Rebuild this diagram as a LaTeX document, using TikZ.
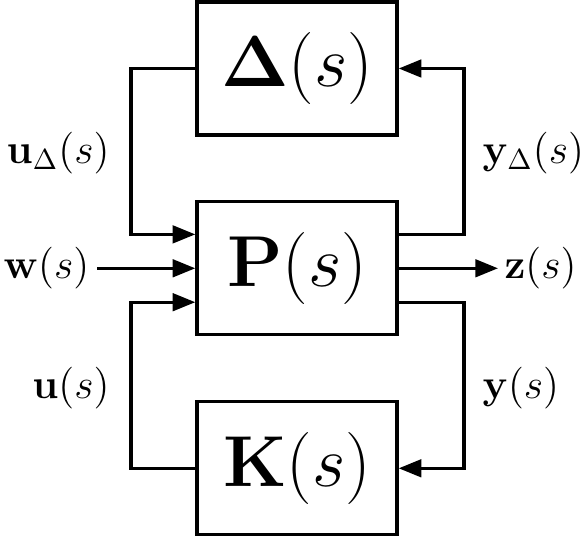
\documentclass[tikz,border=0pt]{standalone}
\usepackage{amsmath}
\usetikzlibrary{arrows.meta}
\begin{document}
\begin{tikzpicture}[x=0.345pt,y=-0.345pt,
  blk/.style={draw, line width=1.15pt, minimum width=69pt, minimum height=45.9pt, inner sep=0pt, font=\Huge},
  lbl/.style={inner sep=0pt, font=\fontsize{14}{16}\selectfont},
  wire/.style={line width=1.15pt},
  arr/.style={wire, -{Triangle[length=7.8pt,width=6pt]}}]
\useasboundingbox (0,0) rectangle (580,537);
\node[blk] (D) at (297,68.5) {$\mathbf{\Delta}(s)$};
\node[blk] (P) at (297,268.3) {$\mathbf{P}(s)$};
\node[blk] (K) at (297,468.3) {$\mathbf{K}(s)$};
\node[lbl, anchor=east] (ud) at (110,153) {$\mathbf{u}_{\Delta}(s)$};
\node[lbl, anchor=west] (yd) at (482,153) {$\mathbf{y}_{\Delta}(s)$};
\node[lbl, anchor=east] (u) at (110,388) {$\mathbf{u}(s)$};
\node[lbl, anchor=west] (y) at (482,388) {$\mathbf{y}(s)$};
\node[lbl, anchor=west] (w) at (3,268) {$\mathbf{w}(s)$};
\node[lbl, anchor=east] (z) at (577,268) {$\mathbf{z}(s)$};
\coordinate (lt) at (131,68.5);
\coordinate (lb) at (131,468.3);
\coordinate (rt) at (464,68.5);
\coordinate (rb) at (464,468.3);
\coordinate (win) at (97,268.3);
\coordinate (zout) at (498,268.3);
\draw[arr] (D.west) -- (lt) |- ([yshift=11.7pt]P.west);
\draw[arr] (K.west) -- (lb) |- ([yshift=-11.7pt]P.west);
\draw[arr] ([yshift=11.7pt]P.east) -| (rt) -- (D.east);
\draw[arr] ([yshift=-11.7pt]P.east) -| (rb) -- (K.east);
\draw[arr] (win) -- (P.west);
\draw[arr] (P.east) -- (zout);
\end{tikzpicture}
\end{document}
